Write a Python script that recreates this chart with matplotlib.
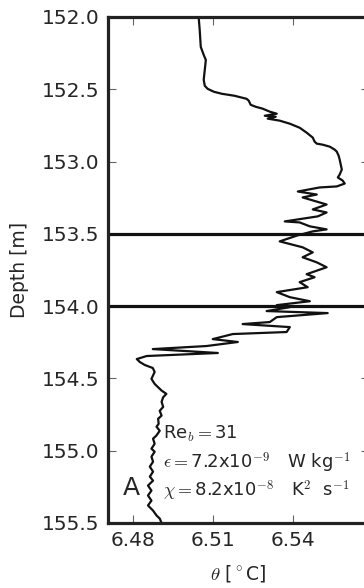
import matplotlib
matplotlib.use('Agg')
import matplotlib.pyplot as plt

# 1. Dados do perfil: temperatura potencial vs profundidade
profundidade = [152.000, 152.090, 152.207, 152.262, 152.297, 152.366, 152.434, 152.476, 152.497, 152.517,
                152.531, 152.545, 152.566, 152.579, 152.607, 152.621, 152.634, 152.655, 152.669, 152.683,
                152.690, 152.703, 152.717, 152.738, 152.766, 152.800, 152.834, 152.862, 152.876, 152.883,
                152.897, 152.917, 152.931, 152.959, 152.986, 153.021, 153.055, 153.090, 153.110, 153.131,
                153.152, 153.172, 153.179, 153.207, 153.228, 153.248, 153.297, 153.331, 153.352, 153.379,
                153.414, 153.421, 153.448, 153.469, 153.483, 153.510, 153.552, 153.593, 153.628, 153.662,
                153.697, 153.731, 153.779, 153.800, 153.834, 153.869, 153.903, 153.938, 153.966, 153.993,
                154.007, 154.034, 154.048, 154.076, 154.110, 154.124, 154.145, 154.179, 154.193, 154.228,
                154.248, 154.276, 154.297, 154.324, 154.345, 154.366, 154.386, 154.407, 154.428, 154.455,
                154.503, 154.538, 154.561, 154.584, 154.607, 154.630, 154.662, 154.697, 154.724, 154.757,
                154.779, 154.814, 154.834, 154.862, 154.894, 154.917, 154.952, 154.986, 155.007, 155.041,
                155.076, 155.110, 155.145, 155.179, 155.207, 155.241, 155.276, 155.310, 155.345, 155.379,
                155.414, 155.448, 155.469, 155.500]
theta = [6.5046, 6.5050, 6.5054, 6.5065, 6.5073, 6.5069, 6.5065, 6.5069, 6.5080, 6.5103,
         6.5133, 6.5181, 6.5226, 6.5234, 6.5241, 6.5260, 6.5286, 6.5313, 6.5339, 6.5294,
         6.5335, 6.5305, 6.5350, 6.5388, 6.5425, 6.5451, 6.5474, 6.5481, 6.5489, 6.5511,
         6.5538, 6.5556, 6.5564, 6.5571, 6.5575, 6.5579, 6.5583, 6.5575, 6.5568, 6.5586,
         6.5594, 6.5564, 6.5500, 6.5418, 6.5489, 6.5436, 6.5526, 6.5474, 6.5526, 6.5493,
         6.5369, 6.5425, 6.5463, 6.5526, 6.5474, 6.5418, 6.5350, 6.5436, 6.5474, 6.5436,
         6.5489, 6.5526, 6.5451, 6.5481, 6.5425, 6.5455, 6.5339, 6.5388, 6.5463, 6.5339,
         6.5388, 6.5301, 6.5530, 6.5339, 6.5313, 6.5211, 6.5388, 6.5376, 6.5174, 6.5099,
         6.5193, 6.5075, 6.4874, 6.5118, 6.4851, 6.4814, 6.4825, 6.4844, 6.4874, 6.4881,
         6.4869, 6.4881, 6.4894, 6.4907, 6.4925, 6.4913, 6.4907, 6.4913, 6.4900, 6.4907,
         6.4894, 6.4896, 6.4888, 6.4900, 6.4888, 6.4875, 6.4881, 6.4869, 6.4881, 6.4869,
         6.4875, 6.4863, 6.4875, 6.4863, 6.4875, 6.4856, 6.4869, 6.4856, 6.4869, 6.4856,
         6.4875, 6.4888, 6.4900, 6.4907]

# 2. Limites da camada e textos
limites_camada = [153.5, 154.0]
y_ticks = [152.0, 152.5, 153.0, 153.5, 154.0, 154.5, 155.0, 155.5]
x_ticks = [6.48, 6.51, 6.54]
linhas_texto = [r'Re$_b=$31',
                r'$\epsilon=$7.2x10$^{-9}$   W kg$^{-1}$',
                r'$\chi=$8.2x10$^{-8}$   K$^2$  s$^{-1}$']

plt.rcParams['mathtext.fontset'] = 'cm'
cor_texto = '#262626'

fig = plt.figure(figsize=(3.64, 5.88), dpi=100)
ax = fig.add_axes([108 / 364, 65 / 588, 261 / 364, 506 / 588])

# 3. Perfil e linhas horizontais
ax.plot(theta, profundidade, color='#111111', lw=1.6)
for y in limites_camada:
    ax.axhline(y, color='#111111', lw=2.3)

ax.set_xlim(6.4706, 6.5685)
ax.set_ylim(155.5, 152.0)
ax.set_yticks(y_ticks)
ax.set_yticklabels([f'{v:.1f}' for v in y_ticks])
ax.set_xticks(x_ticks)
ax.set_xticklabels([f'{v:.2f}' for v in x_ticks])

for s in ax.spines.values():
    s.set_linewidth(2.3)
    s.set_color('#222222')

ax.tick_params(direction='in', length=6, width=0.8, color='#666666', labelsize=14.5,
               labelcolor=cor_texto, top=True, right=True, pad=6)

ax.set_ylabel('Depth [m]', fontsize=13.5, color=cor_texto, labelpad=9)
ax.set_xlabel(r'$\theta$ [$^\circ$C]', fontsize=13.5, color=cor_texto, labelpad=9)

# 4. Anotacoes
ax.text(6.4795, 155.26, 'A', fontsize=18, color=cor_texto, ha='center', va='center')
for i, linha in enumerate(linhas_texto):
    ax.text(6.4911, 154.883 + i * 0.197, linha, fontsize=13, color=cor_texto,
            ha='left', va='center')

plt.savefig('out.png', dpi=100)
